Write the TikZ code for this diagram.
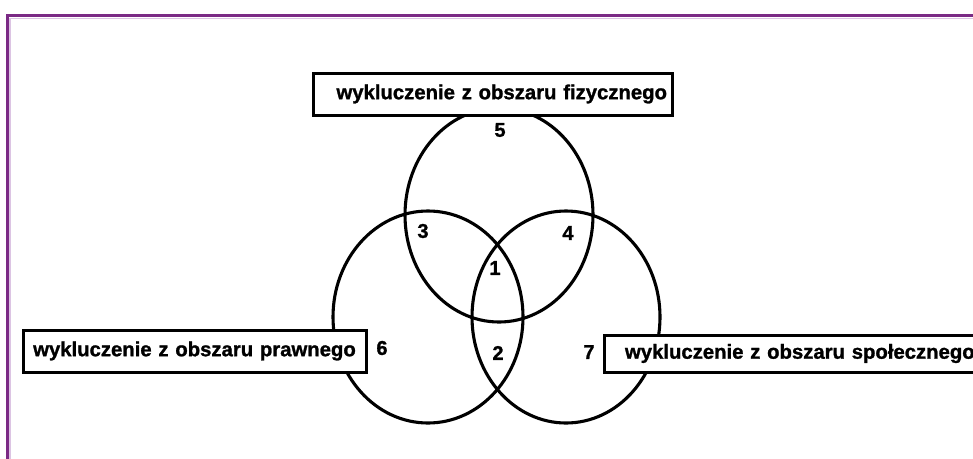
\documentclass[tikz,border=0pt]{standalone}
\usepackage{fontspec}
\setmainfont{Liberation Sans}
\newfontfamily\heavy[FakeBold=1.2]{Liberation Sans Bold}
\usetikzlibrary{shapes.geometric}
\definecolor{framepurple}{HTML}{7B2A85}
\definecolor{framelav}{HTML}{DCC4E3}
\tikzset{
  venn/.style={draw=black, line width=3.1pt, shape=ellipse, inner sep=0pt},
  labelbox/.style={draw=black, fill=white, line width=3pt, font=\heavy\fontsize{20.3}{24}\selectfont, inner ysep=0pt, minimum height=42pt},
  num/.style={font=\heavy\fontsize{20}{24}\selectfont, inner sep=0pt}
}
\begin{document}
\begin{tikzpicture}[x=1pt,y=-1pt]
\useasboundingbox (0,0) rectangle (973,458);
% frame
\draw[framelav, line width=1.2pt] (10,460) -- (10,18.2) -- (975,18.2);
\draw[framepurple, line width=3.5pt] (7.5,460) -- (7.5,15.5) -- (975,15.5);
% circles
\node[venn, minimum width=188pt, minimum height=214pt] (top) at (499,215) {};
\node[venn, minimum width=190pt, minimum height=212pt] (left) at (428,317) {};
\node[venn, minimum width=188pt, minimum height=212pt] (right) at (566,317) {};
% boxes
\node[labelbox, text width=349pt, align=right, inner xsep=5pt] (fiz) at (492.5,94) {wykluczenie z obszaru fizycznego};
\node[labelbox, text width=323pt, align=center, inner xsep=10pt] (praw) at (194.5,351) {wykluczenie z obszaru prawnego};
\node[labelbox, minimum height=37pt, text width=360pt, align=left, inner xsep=21pt] (spol) at (805,353.5) {wykluczenie z obszaru społecznego};
% numbers
\node[num] (n5) at (500,130) {5};
\node[num] (n3) at (423,231) {3};
\node[num] (n4) at (568,233) {4};
\node[num] (n1) at (495,268) {1};
\node[num] (n6) at (382,348) {6};
\node[num] (n2) at (498,353) {2};
\node[num] (n7) at (589,352) {7};
\end{tikzpicture}
\end{document}
